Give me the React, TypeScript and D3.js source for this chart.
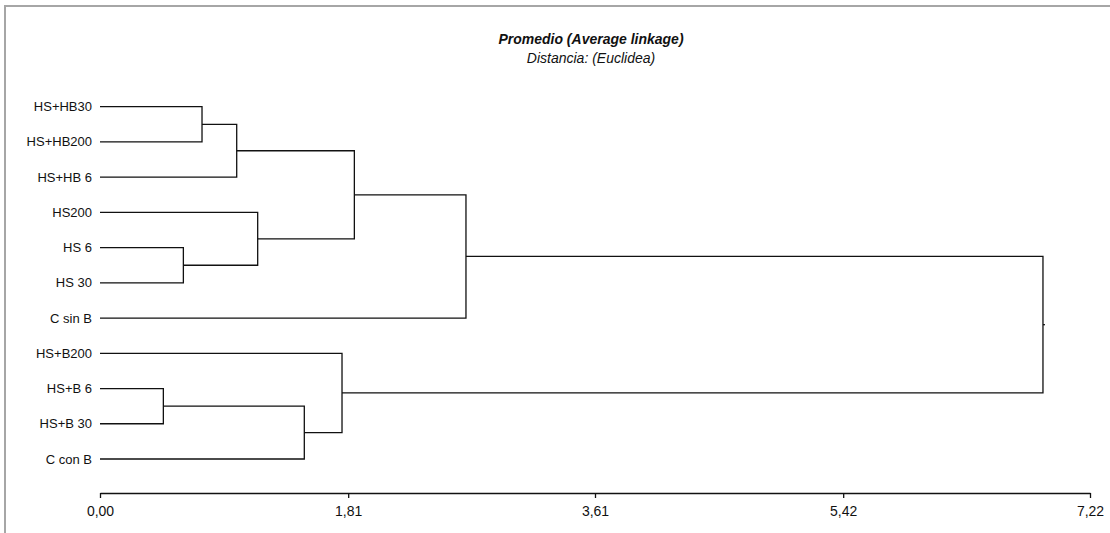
import React, { useEffect, useRef } from "react";
import * as d3 from "d3";

// leaves, top to bottom
const leafLabels = [
  "HS+HB30",
  "HS+HB200",
  "HS+HB 6",
  "HS200",
  "HS 6",
  "HS 30",
  "C sin B",
  "HS+B200",
  "HS+B 6",
  "HS+B 30",
  "C con B",
];

// merges: node ids 0..10 are leaves, each merge makes node 11, 12, ...
const mergeLeft = [0, 11, 4, 3, 12, 15, 8, 17, 7, 16];
const mergeRight = [1, 2, 5, 13, 14, 6, 9, 10, 18, 19];
const mergeHeight = [0.744, 0.997, 0.608, 1.15, 1.855, 2.669, 0.462, 1.49, 1.765, 6.877];

const tickValues = [0, 1.81, 3.61, 5.42, 7.22];

const title = "Promedio (Average linkage)";
const subtitle = "Distancia: (Euclidea)";

const W = 1110;
const H = 533;
const FONT = "'Liberation Sans', Arial, sans-serif";

export default function App() {
  const svgRef = useRef<SVGSVGElement>(null);

  useEffect(() => {
    const svg = d3.select(svgRef.current);
    svg.selectAll("*").remove();

    const axisY = 493;
    const x = d3.scaleLinear().domain([0, 7.22]).range([100, 1090]);
    const y = d3.scalePoint<string>().domain(leafLabels).range([106.7, 459]);

    // frame
    svg
      .append("rect")
      .attr("x", 5)
      .attr("y", 6)
      .attr("width", 1300)
      .attr("height", 700)
      .attr("fill", "none")
      .attr("stroke", "#a6a6a6")
      .attr("stroke-width", 2);

    // node positions
    const nodeY: number[] = leafLabels.map((l) => y(l) as number);
    const nodeH: number[] = leafLabels.map(() => 0);
    mergeLeft.forEach((a, i) => {
      const b = mergeRight[i];
      nodeY.push((nodeY[a] + nodeY[b]) / 2);
      nodeH.push(mergeHeight[i]);
    });

    const g = svg.append("g");
    mergeLeft.forEach((a, i) => {
      const b = mergeRight[i];
      const hx = x(mergeHeight[i]);
      const p = d3.path();
      p.moveTo(x(nodeH[a]), nodeY[a]);
      p.lineTo(hx, nodeY[a]);
      p.lineTo(hx, nodeY[b]);
      p.lineTo(x(nodeH[b]), nodeY[b]);
      g.append("path")
        .attr("d", p.toString())
        .attr("fill", "none")
        .attr("stroke", "#111")
        .attr("stroke-width", 1.3);
    });

    // root stub
    const root = leafLabels.length + mergeLeft.length - 1;
    g.append("line")
      .attr("x1", x(nodeH[root]))
      .attr("x2", x(nodeH[root]) + 2)
      .attr("y1", nodeY[root])
      .attr("y2", nodeY[root])
      .attr("stroke", "#111")
      .attr("stroke-width", 1.3);

    // leaf labels
    svg
      .append("g")
      .selectAll("text")
      .data(leafLabels)
      .join("text")
      .attr("x", 92)
      .attr("y", (d) => y(d) as number)
      .attr("dy", "0.35em")
      .attr("text-anchor", "end")
      .attr("font-family", FONT)
      .attr("font-size", 13)
      .attr("fill", "#111")
      .text((d) => d);

    // axis
    const axis = svg
      .append("g")
      .attr("transform", `translate(0,${axisY})`)
      .call(
        d3
          .axisBottom(x)
          .tickValues(tickValues)
          .tickSizeInner(5)
          .tickSizeOuter(0)
          .tickPadding(8)
          .tickFormat((d) => (d as number).toFixed(2).replace(".", ","))
      );
    axis.select(".domain").attr("stroke", "#111").attr("stroke-width", 1.3);
    axis.selectAll(".tick line").attr("stroke", "#111").attr("stroke-width", 1.3);
    axis
      .selectAll(".tick text")
      .attr("font-family", FONT)
      .attr("font-size", 14)
      .attr("fill", "#111");

    // titles
    svg
      .append("text")
      .attr("x", 591)
      .attr("y", 44)
      .attr("text-anchor", "middle")
      .attr("font-family", FONT)
      .attr("font-size", 14)
      .attr("font-weight", "bold")
      .attr("font-style", "italic")
      .attr("fill", "#111")
      .text(title);

    svg
      .append("text")
      .attr("x", 591)
      .attr("y", 63)
      .attr("text-anchor", "middle")
      .attr("font-family", FONT)
      .attr("font-size", 14)
      .attr("font-style", "italic")
      .attr("fill", "#111")
      .text(subtitle);
  }, []);

  return (
    <svg
      ref={svgRef}
      width={W}
      height={H}
      style={{ position: "absolute", left: 0, top: 0, background: "#fff" }}
    />
  );
}
